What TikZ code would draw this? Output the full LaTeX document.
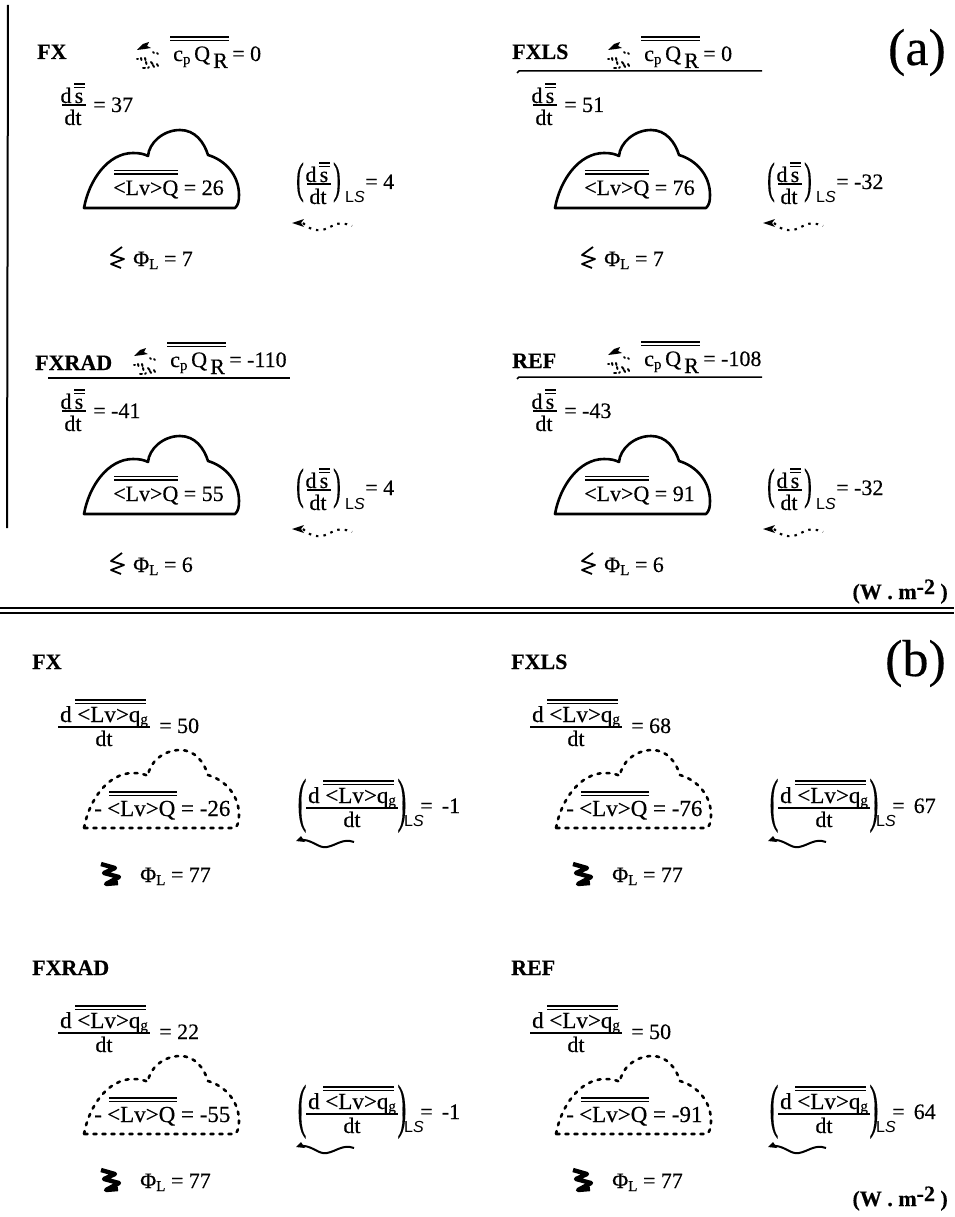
\documentclass[tikz,border=0pt]{standalone}
\usepackage{fontspec}
\setmainfont{Liberation Serif}[FakeBold=0.35]
\newfontfamily\lsfont{Liberation Sans}
\newcommand{\fsn}{\fontsize{22}{24}\selectfont}
\newcommand{\fsm}{\fontsize{23}{24}\selectfont}
\newcommand{\fsb}{\fontsize{22}{24}\selectfont\bfseries}
\newcommand{\fss}{\fontsize{15}{16}\selectfont}
\newcommand{\lstext}{{\lsfont\fontsize{16}{18}\selectfont L\textit{S}}}
\newcommand{\cloudshape}{(84,208) .. controls (89,180) and (108,153) .. (133,153) .. controls (140,153) and (144,154) .. (148,156) .. controls (149,143) and (163,130) .. (180,130) .. controls (195,130) and (204,142) .. (208,155) .. controls (225,160) and (239,175) .. (239,195) .. controls (239,202) and (238,205) .. (235,208) -- cycle}
\tikzset{
  txt/.style={anchor=base west,inner sep=0pt,font=\fsn},
  txm/.style={anchor=base west,inner sep=0pt,font=\fsm},
  mid/.style={anchor=base,inner sep=0pt,font=\fsn},
  ttl/.style={anchor=base west,inner sep=0pt,font=\fsb},
  unitlabel/.style={anchor=base east,inner sep=0pt,font=\fontsize{22}{24}\selectfont\bfseries},
  partlabel/.style={anchor=base east,inner sep=0pt,font=\fontsize{52}{54}\selectfont},
  barline/.style={line width=1.2pt},
  cloudsolid/.style={line width=2.6pt,line join=round},
  clouddash/.style={line width=2.6pt,dash pattern=on 3pt off 6pt,line cap=round,line join=round},
}
\newcommand{\dbar}[3]{\draw[barline] (#1,#3) -- (#2,#3); \draw[barline] (#1,#3+3.5) -- (#2,#3+3.5);}
\newcommand{\rainicon}[2]{\begin{scope}[shift={(#1,#2)}]
 \fill (1,8) -- (7,2) -- (13,0) -- (11,4) -- (15,6) -- (9,7) -- cycle;
 \foreach \a/\b/\c/\d in {17/10/18/11,21/11/22/12,1/17/2/17,5/16/5.5/18,9/16/9.5/18,10/20/10.5/22,15/20/16.5/22,21/22/22/24,7/26/9/26,12/26/13/25,17/23/18/25}{
   \draw[line width=2pt,line cap=round] (\a,\b) -- (\c,\d);}
 \end{scope}}
\newcommand{\dsfrac}[3]{%
 \node[mid] (#1d) at (#2-7,#3-2) {d};
 \node[mid] (#1s) at (#2+6,#3-2) {s};
 \draw[barline] (#2+1,#3-21) -- (#2+12,#3-21); \draw[barline] (#2+1,#3-17.5) -- (#2+12,#3-17.5);
 \draw[line width=1.3pt] (#2-11,#3) -- (#2+13,#3);
 \node[mid] (#1dt) at (#2,#3+20) {dt};}
\newcommand{\lvgfrac}[3]{%
 \node[mid,font=\fsm] (#1num) at (#2,#3-5) {d <Lv>q\raisebox{-2pt}{\fss g}};
 \draw[barline] (#2-29,#3-27) -- (#2+42,#3-27); \draw[barline] (#2-29,#3-23.5) -- (#2+42,#3-23.5);
 \draw[line width=1.3pt] (#2-46,#3) -- (#2+46,#3);
 \node[mid] (#1dt) at (#2,#3+19) {dt};}
\newcommand{\panelA}[7]{\begin{scope}[shift={(#2,#3)}]
 \dsfrac{#1f}{73}{105}
 \node[txt] (#1v) at (93,112) {= #4};
 \draw[cloudsolid] \cloudshape;
 \dbar{114}{178}{170.5}
 \node[txt] (#1lv) at (113,195) {<Lv>Q = #5};
 \dsfrac{#1g}{318}{184}
 \node[anchor=base,inner sep=0pt,font=\fsn,xscale=1.05,yscale=2] (#1lp) at (300,193) {(};
 \node[anchor=base,inner sep=0pt,font=\fsn,xscale=1.05,yscale=2] (#1rp) at (337,193) {)};
 \node[anchor=base west,inner sep=0pt] (#1ls) at (345,203) {\lstext};
 \node[txt] (#1lsv) at (365,189) {= #6};
 \draw[line width=2.1pt,dash pattern=on 2.5pt off 5pt] (303,223) .. controls (312,232) and (322,232) .. (332,226) .. controls (338,222) and (345,223) .. (352,226);
 \fill (292,223) -- (304,219) -- (301,223) -- (304,227) -- cycle;
 \draw[line width=1.8pt,line join=round] (122,247) -- (111,255) -- (124,259) -- (111,264) -- (121,268);
 \node[txt] (#1phi) at (133,266) {Φ\raisebox{-3pt}{\fss L} = #7};
 \end{scope}}
\newcommand{\headA}[7]{%
 \node[ttl] (#1t) at (#2,#3) {#4};
 \rainicon{#5}{#6}
 \begin{scope}[shift={(#5,#6)}]
 \dbar{34}{93}{-5}
 \node[txt] (#1c) at (37,19) {c\raisebox{-3pt}{\fss p}};
 \node[txt] (#1q) at (58,19) {Q};
 \node[txt] (#1r) at (77,26) {R};
 \node[txt] (#1rv) at (96,19) {= #7};
 \end{scope}}
\newcommand{\panelB}[8]{\begin{scope}[shift={(#2,#3)}]
 \node[ttl] (#1t) at (#8,669) {#4};
 \lvgfrac{#1f}{104}{727}
 \node[txt] (#1v) at (159,733) {= #5};
 \dbar{109}{177}{792}
 \node[txm] (#1dash) at (94,816) {-};
 \node[txm] (#1lv) at (107,816) {<Lv>Q = #6};
 \lvgfrac{#1g}{352}{808}
 \node[anchor=base,inner sep=0pt,font=\fsn,xscale=1.2,yscale=2.7] (#1lp) at (302,820) {(};
 \node[anchor=base,inner sep=0pt,font=\fsn,xscale=1.2,yscale=2.7] (#1rp) at (402,820) {)};
 \node[anchor=base west,inner sep=0pt] (#1ls) at (404,826) {\lstext};
 \node[txt] (#1lsv) at (420,813) {= #7};
 \draw[line width=2pt] (298,840) .. controls (312,838) and (318,849) .. (327,847) .. controls (337,845) and (343,838) .. (354,842);
 \fill (296,841) -- (301,836) -- (305,842) -- cycle;
 \draw[line width=4.4pt,line join=round] (101,864) -- (115,868) -- (104,873) -- (119,877) -- (106,884) -- (118,883);
 \node[txt] (#1phi) at (140,882) {Φ\raisebox{-3pt}{\fss L} = 77};
 \end{scope}
 \begin{scope}[shift={(#2,#3+620)}]
 \draw[clouddash] \cloudshape;
 \end{scope}}
\begin{document}
\begin{tikzpicture}[x=1pt,y=-1pt]
\useasboundingbox (0,0) rectangle (954,1217);
\fill[white] (0,0) rectangle (954,1217);
\draw[line width=2pt] (8,5) -- (7,528);
\panelA{aa}{0}{0}{37}{26}{4}{7}
\panelA{ab}{471}{0}{51}{76}{-32}{7}
\panelA{ac}{0}{306}{-41}{55}{4}{6}
\panelA{ad}{471}{306}{-43}{91}{-32}{6}
\headA{aa}{37}{59}{FX}{136}{42}{0}
\headA{ab}{512}{59}{FXLS}{607}{42}{0}
\headA{ac}{35}{370}{FXRAD}{133}{348}{-110}
\headA{ad}{512}{368}{REF}{607}{347}{-108}
\draw[line width=1.5pt] (517,73) -- (519,71) -- (762,71);
\draw[line width=1.5pt] (48,378) -- (290,378);
\draw[line width=1.5pt] (517,379) -- (519,377) -- (762,377);
\node[partlabel] (la) at (946,65) {(a)};
\node[partlabel] (lb) at (946,676) {(b)};
\node[unitlabel] (ua) at (948,599) {(W . m\raisebox{5pt}{-2} )};
\draw[line width=1.5pt] (0,608) -- (954,608);
\draw[line width=1.5pt] (0,613) -- (954,613);
\panelB{ba}{0}{0}{FX}{50}{-26}{\,-1}{32}
\panelB{bb}{472}{0}{FXLS}{68}{-76}{\,67}{39}
\panelB{bc}{0}{306}{FXRAD}{22}{-55}{\,-1}{32}
\panelB{bd}{472}{306}{REF}{50}{-91}{\,64}{39}
\node[unitlabel] (ub) at (948,1206) {(W . m\raisebox{5pt}{-2} )};
\end{tikzpicture}
\end{document}
